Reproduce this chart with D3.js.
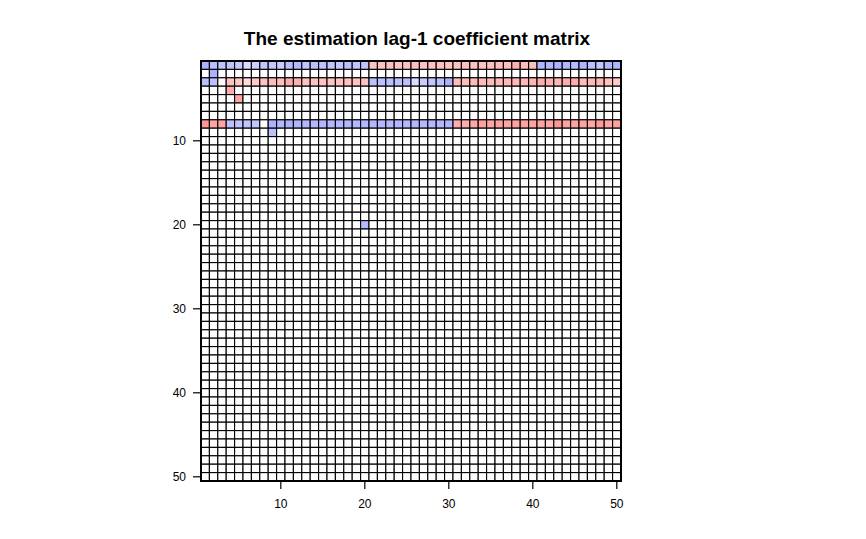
<!DOCTYPE html>
<html>
<head>
<meta charset="utf-8">
<script src="https://cdn.jsdelivr.net/npm/d3@7"></script>
<style>
  body { margin: 0; background: #fff; }
  text { font-family: "Liberation Sans", Arial, sans-serif; }
</style>
</head>
<body>
<div class="chart"></div>
<script>
// chart values //
let n = 50;
let tickValues = [10, 20, 30, 40, 50];
let title = 'The estimation lag-1 coefficient matrix';

// non-zero rows, columns 1..50
let row1 = [-0.33, -0.28, -0.25, -0.25, -0.23, -0.15, -0.21, -0.24, -0.24, -0.22,
            -0.28, -0.31, -0.25, -0.27, -0.26, -0.25, -0.24, -0.27, -0.25, -0.26,
            0.22, 0.22, 0.23, 0.22, 0.22, 0.23, 0.22, 0.22, 0.23, 0.22,
            0.22, 0.23, 0.22, 0.22, 0.23, 0.24, 0.24, 0.29, 0.24, 0.23,
            -0.32, -0.32, -0.34, -0.32, -0.29, -0.32, -0.27, -0.24, -0.32, -0.32];
let row3 = [-0.27, -0.27, 0, 0.22, 0.2, 0.13, 0.19, 0.22, 0.25, 0.23,
            0.3, 0.28, 0.22, 0.22, 0.22, 0.22, 0.22, 0.22, 0.22, 0.22,
            -0.27, -0.27, -0.27, -0.27, -0.27, -0.15, -0.22, -0.24, -0.27, -0.33,
            0.24, 0.24, 0.24, 0.25, 0.25, 0.25, 0.26, 0.26, 0.26, 0.27,
            0.3, 0.28, 0.26, 0.3, 0.3, 0.25, 0.26, 0.26, 0.22, 0.19];
let row8 = [0.38, 0.33, 0.33, -0.27, -0.25, -0.25, -0.25, 0, -0.33, -0.31,
            -0.33, -0.32, -0.31, -0.31, -0.31, -0.31, -0.31, -0.31, -0.31, -0.31,
            -0.31, -0.31, -0.31, -0.31, -0.31, -0.31, -0.31, -0.31, -0.31, -0.32,
            0.3, 0.3, 0.32, 0.34, 0.33, 0.34, 0.33, 0.34, 0.34, 0.33,
            0.34, 0.33, 0.37, 0.34, 0.33, 0.34, 0.33, 0.37, 0.33, 0.34];
// single cells: [row, column, value]
let singles = [[2, 2, -0.33], [4, 4, 0.3], [5, 5, 0.33], [9, 9, -0.27], [20, 20, -0.3]];

// build matrix //
let cells = [];
for (let r = 1; r <= n; r++) {
    for (let c = 1; c <= n; c++) {
        let v = 0;
        if (r === 1) v = row1[c - 1];
        if (r === 3) v = row3[c - 1];
        if (r === 8) v = row8[c - 1];
        cells.push({ row: r, col: c, value: v });
    }
}
singles.forEach(s => {
    cells[(s[0] - 1) * n + (s[1] - 1)].value = s[2];
});

// layout //
let w = 866;
let h = 539;
let plotLeft = 201, plotRight = 621, plotTop = 61, plotBottom = 481;

let svg = d3.select('.chart')
    .append('svg')
    .attr('width', w)
    .attr('height', h);

let idx = d3.range(1, n + 1);

let xScale = d3.scaleBand()
    .domain(idx)
    .range([plotLeft, plotRight]);

let yScale = d3.scaleBand()
    .domain(idx)
    .range([plotTop, plotBottom]);

let color = d3.scaleLinear()
    .domain([-0.4, 0, 0.4])
    .range(['#9ca2ff', '#ffffff', '#ff9090'])
    .clamp(true);

svg.append('g')
    .selectAll('rect')
    .data(cells)
    .enter()
    .append('rect')
    .attr('x', d => xScale(d.col))
    .attr('y', d => yScale(d.row))
    .attr('width', xScale.bandwidth())
    .attr('height', yScale.bandwidth())
    .style('fill', d => d.value === 0 ? '#ffffff' : color(d.value))
    .style('stroke', '#000')
    .style('stroke-width', 1.1);

// outer border
svg.append('rect')
    .attr('x', plotLeft)
    .attr('y', plotTop)
    .attr('width', plotRight - plotLeft)
    .attr('height', plotBottom - plotTop)
    .style('fill', 'none')
    .style('stroke', '#000')
    .style('stroke-width', 2);

// axes //
let xAxis = d3.axisBottom(xScale)
    .tickValues(tickValues)
    .tickSizeOuter(0)
    .tickSize(7)
    .tickPadding(10);

let yAxis = d3.axisLeft(yScale)
    .tickValues(tickValues)
    .tickSizeOuter(0)
    .tickSize(7)
    .tickPadding(7);

let gx = svg.append('g')
    .attr('transform', 'translate(0,' + (plotBottom + 1) + ')')
    .call(xAxis);

let gy = svg.append('g')
    .attr('transform', 'translate(' + (plotLeft - 1) + ',0)')
    .call(yAxis);

[gx, gy].forEach(g => {
    g.select('.domain').remove();
    g.selectAll('line').style('stroke', '#000').style('stroke-width', 1.2);
    g.selectAll('text')
        .style('font-family', '"Liberation Sans", Arial, sans-serif')
        .style('font-size', '12px')
        .style('fill', '#000');
});

// title //
svg.append('text')
    .attr('x', 417)
    .attr('y', 45)
    .attr('text-anchor', 'middle')
    .style('font-size', '19px')
    .style('font-weight', 'bold')
    .style('fill', '#000')
    .text(title);
</script>
</body>
</html>
